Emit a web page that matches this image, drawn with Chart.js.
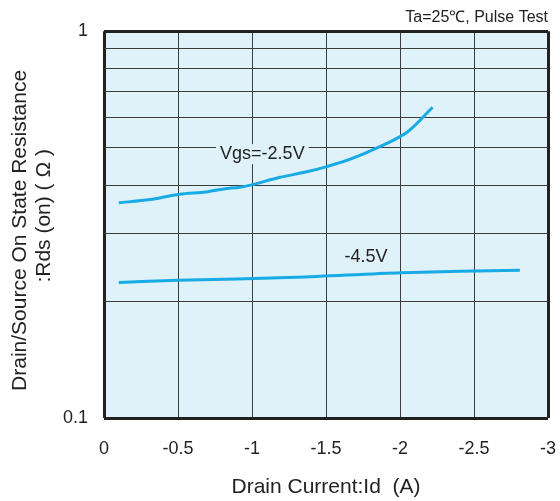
<!DOCTYPE html>
<html>
<head>
<meta charset="utf-8">
<script src="https://cdn.jsdelivr.net/npm/chart.js@4.4.0/dist/chart.umd.min.js"></script>
<style>
html,body{margin:0;padding:0;background:#fff;}
#wrap{width:560px;height:501px;position:relative;}
</style>
</head>
<body>
<div id="wrap"><canvas id="c" width="560" height="501"></canvas></div>
<script>
// Data
const idVgs25 = [-0.1, -0.31, -0.51, -0.69, -0.81, -0.92, -0.99, -1.19, -1.37, -1.50, -1.66, -1.86, -2.05, -2.22];
const rdsVgs25 = [0.360, 0.367, 0.379, 0.384, 0.391, 0.395, 0.400, 0.419, 0.433, 0.446, 0.466, 0.502, 0.549, 0.636];
const idVgs45 = [-0.1, -0.5, -1.3, -2.01, -2.81];
const rdsVgs45 = [0.224, 0.227, 0.231, 0.2374, 0.241];
const seriesLabels = ['Vgs=-2.5V', '-4.5V'];
const labelPos = [[-1.07, 0.481], [-1.77, 0.261]];
const xTickValues = [0, -0.5, -1, -1.5, -2, -2.5, -3];
const xTickLabels = ['0', '-0.5', '-1', '-1.5', '-2', '-2.5', '-3'];
const yGridValues = [0.1, 0.2, 0.3, 0.4, 0.5, 0.6, 0.7, 0.8, 0.9, 1];
const yTickValues = [0.1, 1];
const yTickLabels = ['0.1', '1'];
const noteText = 'Ta=25\u2103, Pulse Test';
const xTitle = 'Drain Current:Id  (A)';
const yTitle = ['Drain/Source On State Resistance  ', '   :Rds (on) ( \u03a9 )'];

const BG = 'rgb(223,242,250)';
const LINE = 'rgb(24,170,228)';
const GRID = 'rgb(60,60,60)';
const EDGE = 'rgb(34,34,34)';
const TXT = '#222';
const FONT = 'Liberation Sans, Arial, sans-serif';

const toXY = (xs, ys) => xs.map((x, i) => ({x: x, y: ys[i]}));
const near = (a, b) => Math.abs(a - b) < 1e-6 * Math.max(1, Math.abs(b));

const plotPlugin = {
  id: 'plotDecor',
  beforeDraw(chart) {
    const {ctx, chartArea: a} = chart;
    ctx.save();
    ctx.fillStyle = BG;
    ctx.fillRect(a.left, a.top, a.right - a.left, a.bottom - a.top);
    ctx.restore();
  },
  beforeDatasetsDraw(chart) {
    const {ctx, scales} = chart;
    ctx.save();
    ctx.font = '18px ' + FONT;
    ctx.textAlign = 'center';
    ctx.textBaseline = 'middle';
    seriesLabels.forEach((t, i) => {
      const px = scales.x.getPixelForValue(labelPos[i][0]);
      const py = scales.y.getPixelForValue(labelPos[i][1]);
      const w = ctx.measureText(t).width + 8;
      ctx.fillStyle = BG;
      ctx.fillRect(px - w / 2, py - 10, w, 20);
      ctx.fillStyle = TXT;
      ctx.fillText(t, px, py);
    });
    ctx.restore();
  }
};

const isXEdge = c => c.tick && (near(c.tick.value, 0) || near(c.tick.value, -3));
const isYEdge = c => c.tick && (near(c.tick.value, 0.1) || near(c.tick.value, 1));

new Chart(document.getElementById('c'), {
  type: 'line',
  data: {
    datasets: [
      {label: seriesLabels[0], data: toXY(idVgs25, rdsVgs25), borderColor: LINE, borderWidth: 3, pointRadius: 0, tension: 0.3, fill: false},
      {label: seriesLabels[1], data: toXY(idVgs45, rdsVgs45), borderColor: LINE, borderWidth: 3, pointRadius: 0, tension: 0.3, fill: false}
    ]
  },
  options: {
    responsive: false,
    animation: false,
    events: [],
    layout: {padding: {left: 0, right: 12, top: 0, bottom: 0}},
    plugins: {
      legend: {display: false},
      tooltip: {enabled: false},
      title: {display: true, text: noteText, align: 'end', color: TXT, font: {family: FONT, size: 16, weight: 'normal'}, padding: {top: 8, bottom: 4}}
    },
    scales: {
      x: {
        type: 'linear', min: -3, max: 0, reverse: true,
        afterBuildTicks: s => { s.ticks = xTickValues.map(v => ({value: v})); },
        afterFit: s => { s.height = 83; s.paddingLeft = 0; s.paddingRight = 0; },
        ticks: {
          color: TXT, font: {family: FONT, size: 18}, padding: 20, autoSkip: false, maxRotation: 0,
          callback: v => { const i = xTickValues.findIndex(t => near(t, v)); return i >= 0 ? xTickLabels[i] : ''; }
        },
        grid: {
          drawTicks: false,
          color: c => isXEdge(c) ? EDGE : GRID,
          lineWidth: c => isXEdge(c) ? 3 : 1
        },
        border: {display: false},
        title: {display: true, text: xTitle, color: TXT, font: {family: FONT, size: 21}, padding: {top: 0, bottom: 1}}
      },
      y: {
        type: 'logarithmic', min: 0.1, max: 1,
        afterBuildTicks: s => { s.ticks = yGridValues.map(v => ({value: v})); },
        afterFit: s => { s.width = 104; },
        ticks: {
          color: TXT, font: {family: FONT, size: 18}, padding: 16, autoSkip: false,
          callback: v => { const i = yTickValues.findIndex(t => near(t, v)); return i >= 0 ? yTickLabels[i] : ''; }
        },
        grid: {
          drawTicks: false,
          color: c => isYEdge(c) ? EDGE : GRID,
          lineWidth: c => isYEdge(c) ? 3 : 1
        },
        border: {display: false},
        title: {display: true, text: yTitle, color: TXT, font: {family: FONT, size: 21, lineHeight: 1.143}, padding: {top: 8, bottom: 0}}
      }
    }
  },
  plugins: [plotPlugin]
});
</script>
</body>
</html>
